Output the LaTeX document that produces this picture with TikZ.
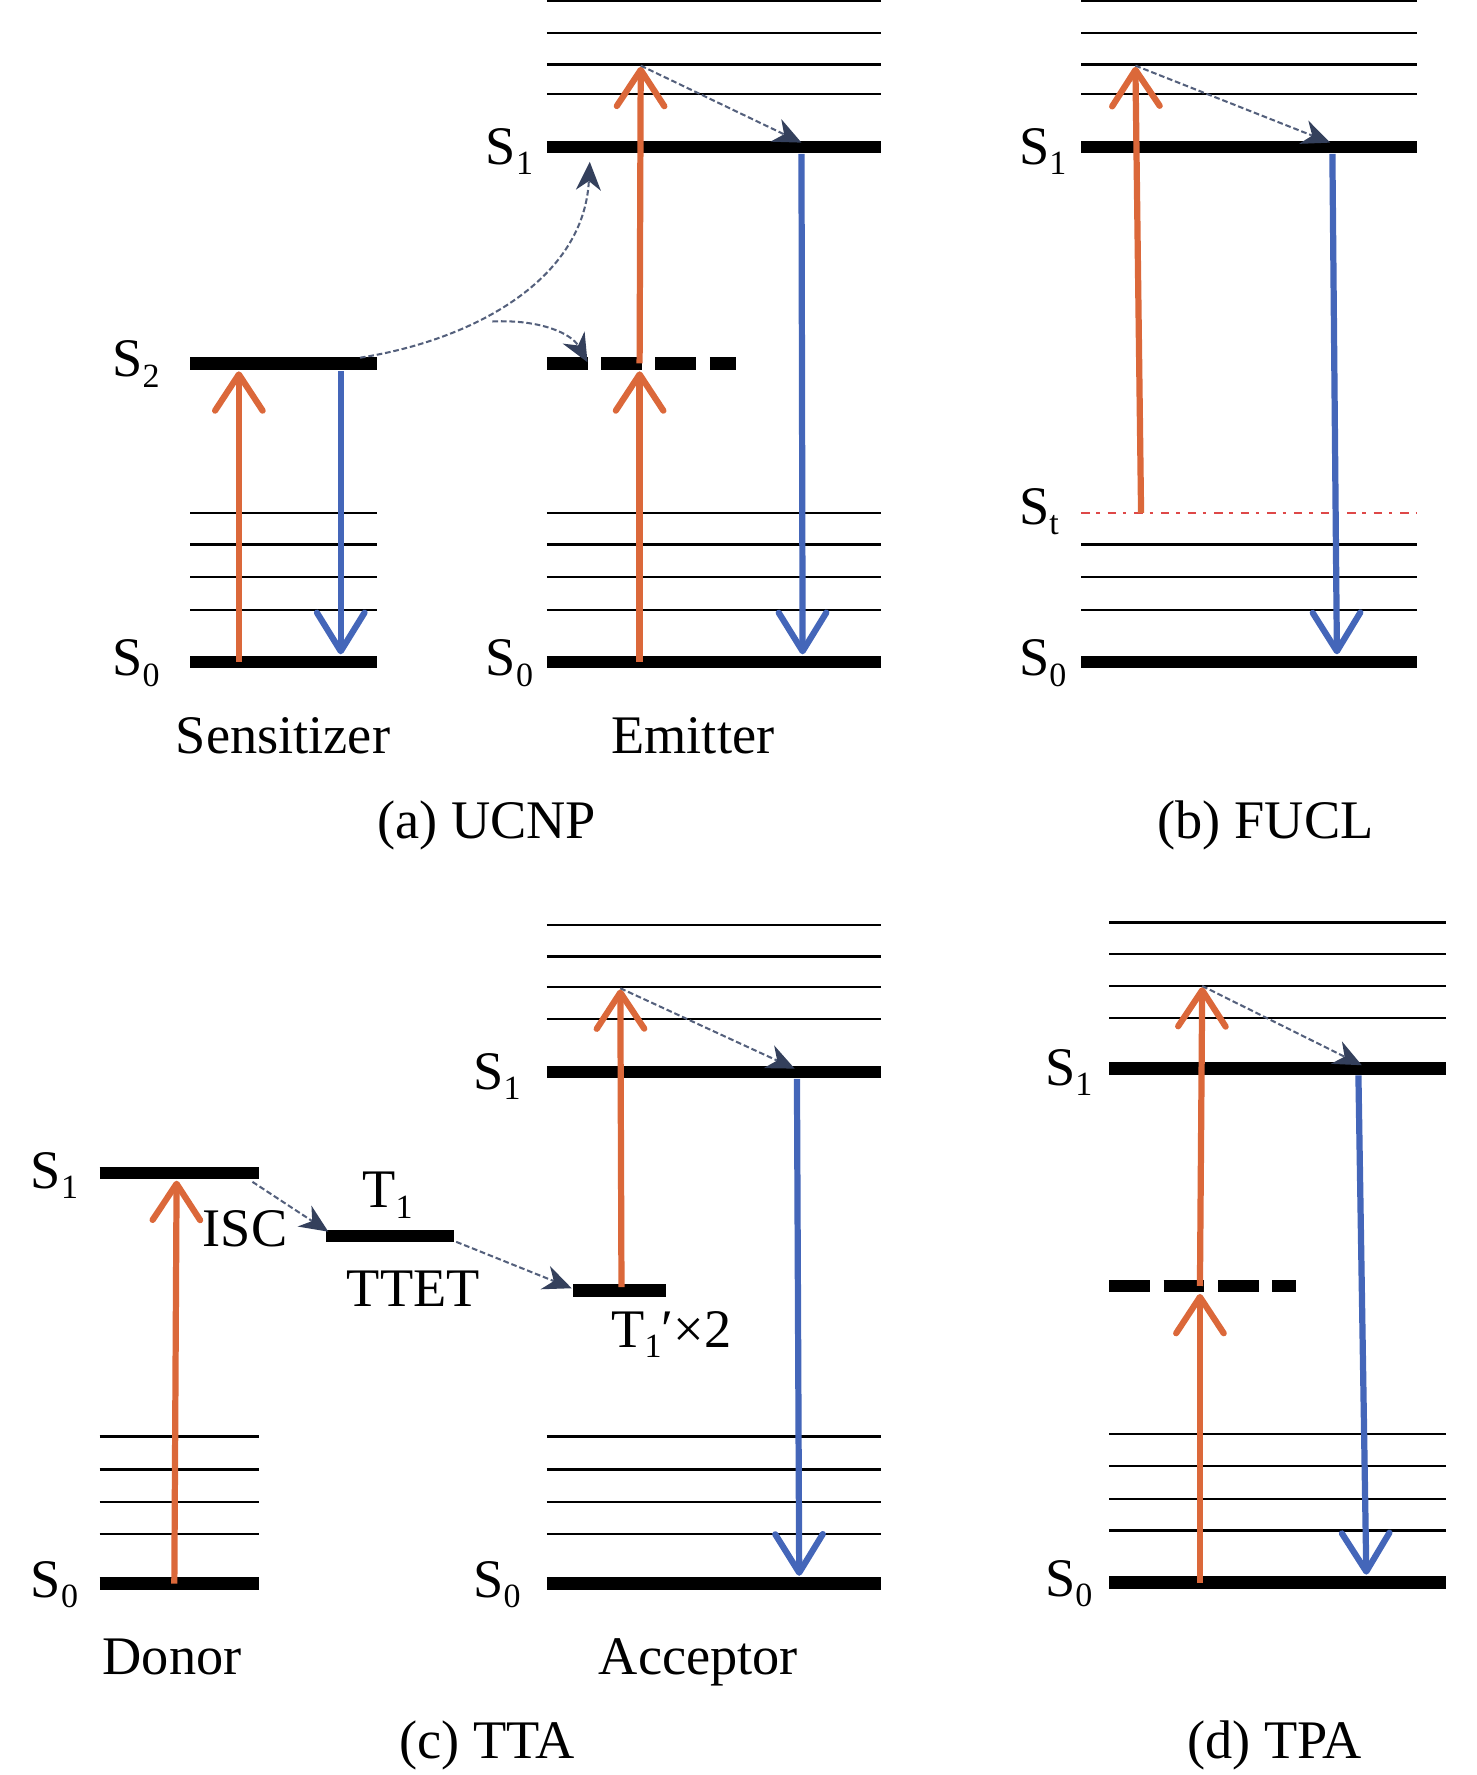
\documentclass[tikz,border=0pt]{standalone}
\usepackage{fontspec}
\setmainfont{Liberation Serif}
\usetikzlibrary{arrows.meta}
\definecolor{orng}{RGB}{219,104,58}
\definecolor{blu}{RGB}{68,102,185}
\definecolor{slate}{RGB}{84,96,124}
\definecolor{slatehd}{RGB}{52,64,92}
\definecolor{stred}{RGB}{222,72,72}
\newcommand\lv[2]{#1\raisebox{-9pt}{\fontsize{30}{30}\selectfont #2}}
\begin{document}
\begin{tikzpicture}[x=1pt,y=-1pt,
 lvl/.style={line width=11pt},
 sub/.style={line width=2pt},
 dlvl/.style={line width=11pt,dash pattern=on 36pt off 12pt},
 stl/.style={draw=stred,line width=1.6pt,dash pattern=on 7.5pt off 6pt on 3pt off 7pt},
 exc/.style={draw=orng,line width=5.5pt,-{Straight Barb[length=32pt,width=42pt,round]}},
 emis/.style={draw=blu,line width=5.5pt,-{Straight Barb[length=34pt,width=42pt,round]}},
 relax/.style={draw=slate,line width=1.8pt,dash pattern=on 5pt off 2.5pt,-{Stealth[length=25pt,width=22pt,inset=8pt,color=slatehd]}},
 lbl/.style={font=\fontsize{48}{56}\selectfont,inner sep=0pt,anchor=base west},
 captxt/.style={font=\fontsize{48}{56}\selectfont,inner sep=0pt,anchor=base}
]
\useasboundingbox (0,0) rectangle (1304,1568);

% ---------- (a) Sensitizer ----------
\draw[lvl] (168,321) -- (333,321);
\draw[lvl] (168,585) -- (333,585);
\foreach \y in {453,481,510,539} \draw[sub] (168,\y) -- (333,\y);
\node[lbl] (aS2) at (99,333) {\lv{S}{2}};
\node[lbl] (aS0s) at (99,597) {\lv{S}{0}};
\node[captxt] (sens) at (250,666) {Sensitizer};

% ---------- (a) Emitter ----------
\foreach \y in {1,29,57,83} \draw[sub] (483,\y) -- (778,\y);
\draw[lvl] (483,130) -- (778,130);
\draw[dlvl] (483,321) -- (650,321);
\foreach \y in {453,481,510,539} \draw[sub] (483,\y) -- (778,\y);
\draw[lvl] (483,585) -- (778,585);
\node[lbl] (aS1) at (429,145) {\lv{S}{1}};
\node[lbl] (aS0e) at (429,597) {\lv{S}{0}};
\node[captxt] (emit) at (612,666) {Emitter};
\node[captxt] (capa) at (430,741) {(a) UCNP};

% ---------- (b) FUCL ----------
\foreach \y in {1,29,57,83} \draw[sub] (955,\y) -- (1252,\y);
\draw[lvl] (955,130) -- (1252,130);
\draw[stl] (955,453) -- (1252,453);
\foreach \y in {481,510,539} \draw[sub] (955,\y) -- (1252,\y);
\draw[lvl] (955,585) -- (1252,585);
\node[lbl] (bS1) at (900,145) {\lv{S}{1}};
\node[lbl] (bSt) at (900,463) {\lv{S}{t}};
\node[lbl] (bS0) at (900,597) {\lv{S}{0}};
\node[captxt] (capb) at (1118,741) {(b) FUCL};

% ---------- (c) Donor ----------
\draw[lvl] (88,1036) -- (229,1036);
\foreach \y in {1269,1298,1327,1355} \draw[sub] (88,\y) -- (229,\y);
\draw[lvl] (88,1399) -- (229,1399);
\node[lbl] (cS1d) at (27,1050) {\lv{S}{1}};
\node[lbl] (cS0d) at (27,1411) {\lv{S}{0}};
\node[captxt] (donor) at (152,1479) {Donor};
\draw[lvl] (288,1092) -- (401,1092);
\draw[lvl] (506,1140) -- (588,1140);
\node[lbl] (cT1) at (320,1067) {\lv{T}{1}};
\node[lbl] (isc) at (179,1101) {ISC};
\node[captxt] (ttet) at (365,1154) {TTET};
\node[lbl] (cT1p) at (540,1190) {\lv{T}{1}′×2};

% ---------- (c) Acceptor ----------
\foreach \y in {817,845,872,900} \draw[sub] (483,\y) -- (778,\y);
\draw[lvl] (483,947) -- (778,947);
\foreach \y in {1269,1298,1327,1355} \draw[sub] (483,\y) -- (778,\y);
\draw[lvl] (483,1399) -- (778,1399);
\node[lbl] (cS1a) at (418,962) {\lv{S}{1}};
\node[lbl] (cS0a) at (418,1411) {\lv{S}{0}};
\node[captxt] (accep) at (617,1479) {Acceptor};
\node[captxt] (capc) at (430,1553) {(c) TTA};

% ---------- (d) TPA ----------
\foreach \y in {815,843,871,899} \draw[sub] (980,\y) -- (1277,\y);
\draw[lvl] (980,944) -- (1277,944);
\draw[dlvl] (980,1136) -- (1145,1136);
\foreach \y in {1267,1295,1324,1352} \draw[sub] (980,\y) -- (1277,\y);
\draw[lvl] (980,1398) -- (1277,1398);
\node[lbl] (dS1) at (923,959) {\lv{S}{1}};
\node[lbl] (dS0) at (923,1410) {\lv{S}{0}};
\node[captxt] (capd) at (1126,1553) {(d) TPA};

% ---------- coordinates for transitions ----------
\coordinate (sA0) at (211,585);   \coordinate (sA2) at (211,328);
\coordinate (sB2) at (301,328);   \coordinate (sB0) at (301,578);
\coordinate (eA0) at (565,585);   \coordinate (eAv) at (565,328);
\coordinate (eBv) at (565,321);   \coordinate (eBt) at (566,59);
\coordinate (eR1) at (566,58);    \coordinate (eR2) at (708,126);
\coordinate (eC1) at (708,136);   \coordinate (eC0) at (709,578);
\coordinate (cv0) at (318,316);   \coordinate (cvS1) at (521,143);
\coordinate (cvB) at (435,284);   \coordinate (cvD) at (519,320);
\coordinate (fA0) at (1008,453);  \coordinate (fAt) at (1003,59);
\coordinate (fR1) at (1003,58);   \coordinate (fR2) at (1175,126);
\coordinate (fC1) at (1177,136);  \coordinate (fC0) at (1181,578);
\coordinate (dA0) at (154,1399);  \coordinate (dA1) at (156,1043);
\coordinate (iscA) at (223,1044); \coordinate (iscB) at (290,1088);
\coordinate (ttA) at (403,1097);  \coordinate (ttB) at (505,1138);
\coordinate (acA) at (549,1137);  \coordinate (acB) at (548,874);
\coordinate (acR1) at (548,873);  \coordinate (acR2) at (702,944);
\coordinate (acC1) at (704,953);  \coordinate (acC0) at (706,1392);
\coordinate (tA0) at (1060,1398); \coordinate (tAv) at (1060,1143);
\coordinate (tBv) at (1060,1136); \coordinate (tBt) at (1062,872);
\coordinate (tR1) at (1062,871);  \coordinate (tR2) at (1203,941);
\coordinate (tC1) at (1200,950);  \coordinate (tC0) at (1207,1391);

% ---------- transitions ----------
\draw[exc] (sA0) -- (sA2);
\draw[emis] (sB2) -- (sB0);
\draw[exc] (eA0) -- (eAv);
\draw[exc] (eBv) -- (eBt);
\draw[emis] (eC1) -- (eC0);
\draw[relax] (eR1) -- (eR2);
\draw[relax] (cv0) .. controls (420,300) and (516,246) .. (cvS1);
\draw[relax] (cvB) .. controls (478,282) and (505,295) .. (cvD);

\draw[exc] (fA0) -- (fAt);
\draw[emis] (fC1) -- (fC0);
\draw[relax] (fR1) -- (fR2);

\draw[exc] (dA0) -- (dA1);
\draw[relax] (iscA) -- (iscB);
\draw[relax] (ttA) -- (ttB);
\draw[exc] (acA) -- (acB);
\draw[emis] (acC1) -- (acC0);
\draw[relax] (acR1) -- (acR2);

\draw[exc] (tA0) -- (tAv);
\draw[exc] (tBv) -- (tBt);
\draw[emis] (tC1) -- (tC0);
\draw[relax] (tR1) -- (tR2);
\end{tikzpicture}
\end{document}
